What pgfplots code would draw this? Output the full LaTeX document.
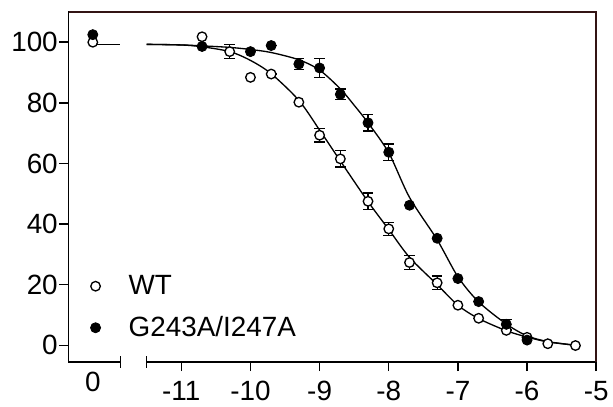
\documentclass[border=0pt]{standalone}
\usepackage{fontspec}
\setmainfont{Liberation Sans}
\usepackage{pgfplots}
\pgfplotsset{compat=1.18}
\definecolor{framecol}{rgb}{0.2,0.08,0.08}

% fitted curves
\pgfplotstableread{
x y
-11.5 99.3
-11.0 99.1
-10.7 98.5
-10.3 96.9
-10.0 94.0
-9.7 89.6
-9.3 80.8
-9.0 71.0
-8.7 60.8
-8.3 47.4
-8.0 38.2
-7.7 29.0
-7.3 20.0
-7.0 13.2
-6.7 8.8
-6.3 4.8
-6.0 2.7
-5.7 1.1
-5.3 0.0
}\fitwt
\pgfplotstableread{
x y
-11.5 99.3
-11.0 99.1
-10.7 98.8
-10.3 98.3
-10.0 97.6
-9.7 96.6
-9.3 94.2
-9.0 90.8
-8.7 84.6
-8.5 79.2
-8.3 73.4
-8.0 63.5
-7.7 48.8
-7.3 34.8
-7.0 22.6
-6.7 14.3
-6.3 7.0
-6.0 3.1
-5.7 1.2
-5.3 0.0
}\fitmut

% data; x = -12.28 stands for the "0" position left of the break
\pgfplotstableread{
x y e
-12.28 100.0 0
-10.7 101.8 0
-10.3 96.9 2.3
-10.0 88.4 0
-9.7 89.5 0
-9.3 80.2 0
-9.0 69.3 2.2
-8.7 61.5 2.7
-8.3 47.5 2.7
-8.0 38.4 2.2
-7.7 27.3 2.3
-7.3 20.6 2.3
-7.0 13.2 0
-6.7 8.9 0
-6.3 4.9 0
-6.0 2.6 0
-5.7 0.5 0
-5.3 -0.1 0
}\wt
\pgfplotstableread{
x y e
-12.28 102.5 0
-10.7 98.6 0
-10.0 96.9 0
-9.7 98.9 0
-9.3 92.8 1.8
-9.0 91.5 3.1
-8.7 82.8 1.8
-8.3 73.4 2.7
-8.0 63.7 2.7
-7.7 46.2 0
-7.3 35.3 0
-7.0 22.0 0
-6.7 14.4 0
-6.3 6.9 1.6
-6.0 1.7 0
}\mut

\begin{document}
\begin{tikzpicture}
\begin{axis}[
  scale only axis,
  width=398pt, height=264pt,
  xmin=-12.63, xmax=-5,
  ymin=-5.5, ymax=110,
  xtick={-11,-10,-9,-8,-7,-6,-5},
  xticklabels={-11,-10,-9,-8,-7,-6,-5},
  extra x ticks={-12.28},
  extra x tick labels={0},
  extra x tick style={major tick length=0pt},
  ytick={0,20,40,60,80,100},
  tick pos=left,
  tick align=outside,
  major tick length=7pt,
  axis line style={line width=1.1pt, black},
  tick style={line width=1.1pt, black},
  tick label style={font=\fontsize{21}{24}\selectfont},
  xticklabel style={yshift=-4pt},
  yticklabel style={inner xsep=1pt},
  /pgf/number format/assume math mode=true,
  clip=false,
  legend style={draw=none, fill=none, at={(rel axis cs:0.033,0.05)}, anchor=south west,
    font=\fontsize{21}{24}\selectfont, row sep=11pt},
  legend cell align=left,
  legend image code/.code={\path[draw=none] (-4pt,0) -- (23pt,0); \draw[#1] plot coordinates {(0pt,0pt)};},
]
\addplot[black, line width=1pt, forget plot] coordinates {(-12.24,99.3) (-11.89,99.3)};
\addplot[black, line width=1pt, smooth, forget plot] table {\fitwt};
\addplot[black, line width=1pt, smooth, forget plot] table {\fitmut};

\addplot[black, only marks, mark=none, forget plot,
  error bars/.cd, y dir=both, y explicit,
  error bar style={line width=1pt, black},
  error mark options={rotate=90, mark size=4pt, line width=1pt}]
  table[x=x, y=y, y error=e] {\wt};
\addplot[black, only marks, mark=none, forget plot,
  error bars/.cd, y dir=both, y explicit,
  error bar style={line width=1pt, black},
  error mark options={rotate=90, mark size=4pt, line width=1pt}]
  table[x=x, y=y, y error=e] {\mut};

\addplot[only marks, mark=*, mark size=3.6pt,
  mark options={draw=black, fill=white, line width=1pt}] table[x=x, y=y] {\wt};
\addplot[only marks, mark=*, mark size=3.8pt,
  mark options={draw=black, fill=black, line width=0.6pt}] table[x=x, y=y] {\mut};
\legend{WT, G243A/I247A}

\coordinate (b1) at (axis cs:-11.88,-5.5);
\coordinate (b2) at (axis cs:-11.5,-5.5);
\end{axis}
\fill[white] ([yshift=-1.5pt]b1) rectangle ([yshift=1.5pt]b2);
\draw[line width=1.1pt] ([yshift=-4.5pt]b1) -- ([yshift=4.5pt]b1);
\draw[line width=1.1pt] ([yshift=-4.5pt]b2) -- ([yshift=4.5pt]b2);
% page frame with the reference's margins
\path ([xshift=-51.75pt, yshift=-33.75pt]current axis.south west)
  rectangle ([xshift=9.75pt, yshift=9pt]current axis.north east);
% top and right frame lines, drawn last
\draw[framecol, line width=1.2pt] (current axis.north west) -- (current axis.north east) -- (current axis.south east);
\end{tikzpicture}
\end{document}
